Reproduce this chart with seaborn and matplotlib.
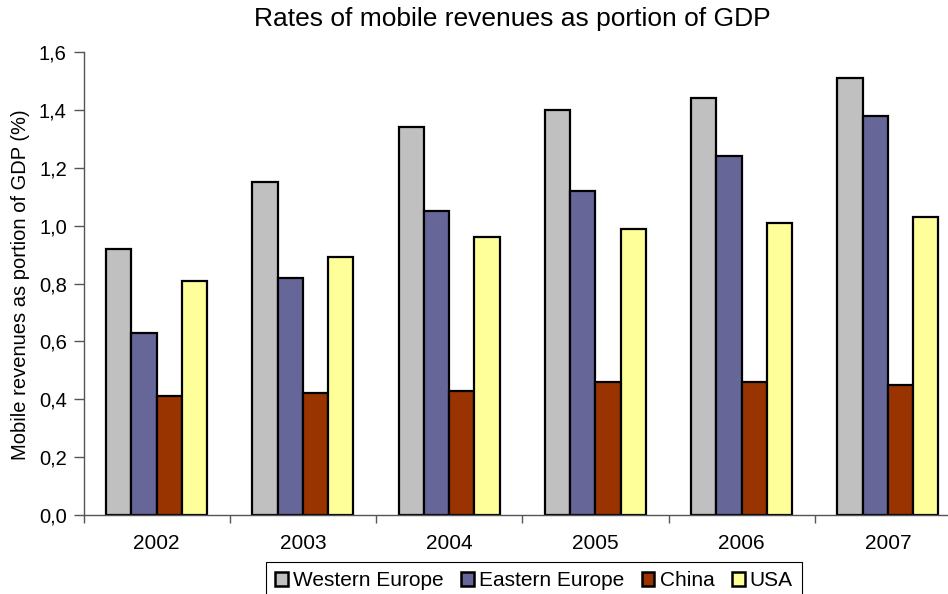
import matplotlib
matplotlib.use("Agg")
import matplotlib.pyplot as plt
import matplotlib.patches as mpatches
from matplotlib.ticker import FixedLocator, FuncFormatter, NullFormatter
import pandas as pd
import seaborn as sns

years = ["2002", "2003", "2004", "2005", "2006", "2007"]
regions = ["Western Europe", "Eastern Europe", "China", "USA"]
western_europe = [0.92, 1.15, 1.34, 1.40, 1.44, 1.51]
eastern_europe = [0.63, 0.82, 1.05, 1.12, 1.24, 1.38]
china = [0.41, 0.42, 0.43, 0.46, 0.46, 0.45]
usa = [0.81, 0.89, 0.96, 0.99, 1.01, 1.03]
y_ticks = [0.0, 0.2, 0.4, 0.6, 0.8, 1.0, 1.2, 1.4, 1.6]

colors = ["#C0C0C0", "#666699", "#993300", "#FFFF99"]

df = pd.DataFrame({
    "year": years * 4,
    "region": [r for r in regions for _ in years],
    "value": western_europe + eastern_europe + china + usa,
})

sns.set_theme(style="white")
plt.rcParams["font.family"] = ["Liberation Sans", "DejaVu Sans"]
plt.rcParams["text.color"] = "black"
plt.rcParams["axes.labelcolor"] = "black"

fig = plt.figure(figsize=(9.48, 5.94), dpi=100)
ax = fig.add_axes([83.5 / 948, 79 / 594, (961 - 83.5) / 948, 463 / 594])

sns.barplot(data=df, x="year", y="value", hue="region", hue_order=regions,
            palette=colors, width=0.69, edgecolor="black", linewidth=1.6,
            saturation=1, legend=False, ax=ax)

ax.set_xlim(-0.5, 5.5)
ax.set_ylim(0, 1.6)

axis_color = "#555555"
for side in ["top", "right"]:
    ax.spines[side].set_visible(False)
for side in ["left", "bottom"]:
    ax.spines[side].set_color(axis_color)
    ax.spines[side].set_linewidth(1.0)

ax.yaxis.set_major_locator(FixedLocator(y_ticks))
ax.yaxis.set_major_formatter(FuncFormatter(lambda v, p: f"{v:.1f}".replace(".", ",")))
ax.tick_params(axis="y", which="major", direction="out", length=7, width=1.0,
               color=axis_color, labelcolor="black", labelsize=14.5, pad=5,
               left=True)

# category labels in the middle, tick marks on the boundaries
ax.xaxis.set_minor_locator(FixedLocator([i - 0.5 for i in range(len(years) + 1)]))
ax.xaxis.set_minor_formatter(NullFormatter())
ax.tick_params(axis="x", which="major", length=0, labelsize=15,
               labelcolor="black", pad=14)
ax.tick_params(axis="x", which="minor", direction="out", length=6, width=1.0,
               color=axis_color, bottom=True)

ax.set_xlabel("")
ax.set_ylabel("Mobile revenues as portion of GDP (%)", fontsize=14.5)
ax.yaxis.set_label_coords(30 / 948, 1 - 285 / 594, transform=fig.transFigure)
ax.grid(False)

fig.text(512 / 948, 1 - 19 / 594, "Rates of mobile revenues as portion of GDP",
         ha="center", va="center", fontsize=19)

handles = [mpatches.Patch(facecolor=c, edgecolor="black", linewidth=1.8) for c in colors]
leg = fig.legend(handles, regions, loc="upper center", ncol=4,
                 bbox_to_anchor=(534 / 948, 1 - 562 / 594),
                 fontsize=15, frameon=True, fancybox=False, framealpha=1,
                 edgecolor="black", handlelength=0.6, handleheight=0.6,
                 handletextpad=0.25, columnspacing=0.85, borderpad=0.45,
                 borderaxespad=0)
leg.get_frame().set_linewidth(0.8)

fig.savefig("out.png", dpi=100)
